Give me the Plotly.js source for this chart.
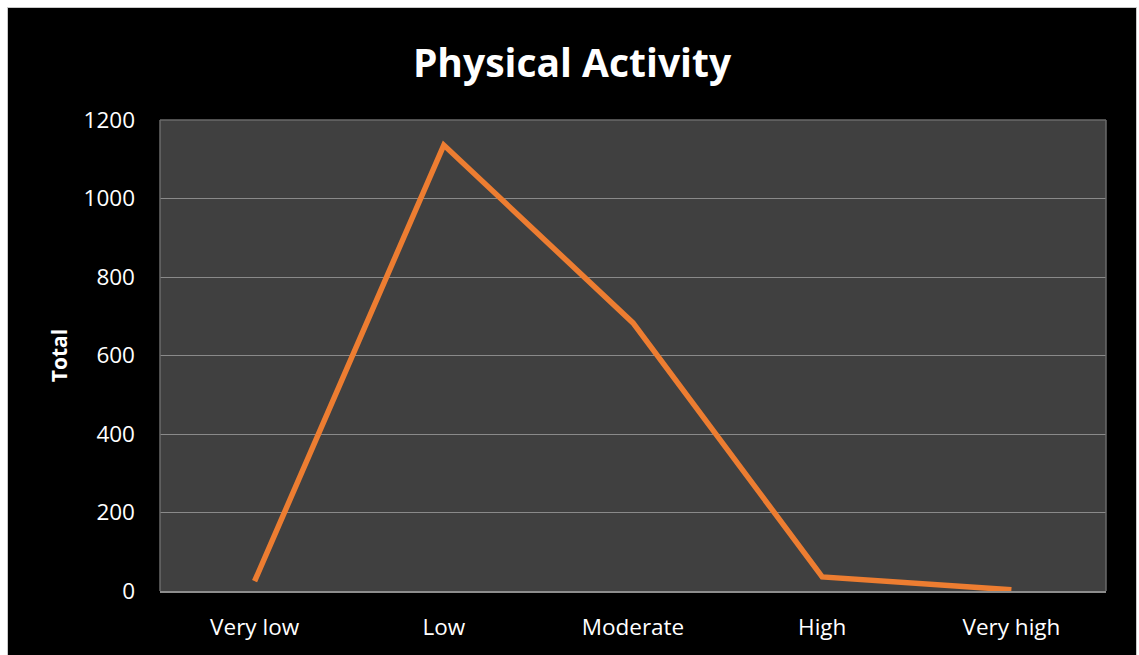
<!DOCTYPE html>
<html>
<head>
<meta charset="utf-8">
<script src="https://cdn.plot.ly/plotly-3.0.1.min.js"></script>
<style>
html,body{margin:0;padding:0;background:#ffffff;width:1139px;height:655px;overflow:hidden;}
#frame{position:absolute;left:7px;top:7px;width:1128px;height:648px;border-left:1px solid #c8c8c8;border-top:1px solid #c8c8c8;border-right:1px solid #c8c8c8;background:#000;}
#chart{width:1128px;height:648px;}
</style>
</head>
<body>
<div id="frame"><div id="chart"></div></div>
<script>
const categories = ["Very low", "Low", "Moderate", "High", "Very high"];
const totals = [25, 1136, 683, 36, 3];
const yTicks = [0, 200, 400, 600, 800, 1000, 1200];

const trace = {
  x: categories,
  y: totals,
  type: 'scatter',
  mode: 'lines',
  line: {color: '#ED7D31', width: 5.5, shape: 'linear'},
  hoverinfo: 'x+y'
};

const layout = {
  width: 1128,
  height: 648,
  paper_bgcolor: '#000000',
  plot_bgcolor: '#404040',
  margin: {l: 152, r: 30, t: 112, b: 65},
  font: {family: 'Open Sans, Liberation Sans, sans-serif', color: '#ffffff'},
  title: {
    text: '<b>Physical Activity</b>',
    font: {size: 39, color: '#ffffff', family: 'Open Sans, Liberation Sans, sans-serif'},
    x: 0.5, xanchor: 'center',
    y: 0.915, yanchor: 'middle'
  },
  showlegend: false,
  xaxis: {
    type: 'category',
    range: [-0.5, 4.5],
    showgrid: false,
    showline: true,
    linecolor: '#8c8c8c',
    linewidth: 1.5,
    mirror: false,
    ticks: '',
    tickfont: {size: 22.5, color: '#ffffff'},
    ticklabelstandoff: 15,
    zeroline: false,
    fixedrange: true
  },
  yaxis: {
    range: [0, 1200],
    tickvals: yTicks,
    ticktext: yTicks.map(String),
    showgrid: true,
    gridcolor: '#8a8a8a',
    gridwidth: 1,
    zeroline: false,
    showline: false,
    ticks: '',
    tickfont: {size: 22.5, color: '#ffffff'},
    ticklabelstandoff: 24,
    title: {text: '<b>Total</b>', font: {size: 21, color: '#ffffff'}, standoff: 10},
    fixedrange: true
  },
  shapes: [
    {type: 'line', xref: 'paper', yref: 'paper', x0: 0, x1: 0, y0: 0, y1: 1, line: {color: '#6a6a6a', width: 1.5}},
    {type: 'line', xref: 'paper', yref: 'paper', x0: 0, x1: 1, y0: 1, y1: 1, line: {color: '#6a6a6a', width: 1.5}},
    {type: 'line', xref: 'paper', yref: 'paper', x0: 1, x1: 1, y0: 0, y1: 1, line: {color: '#6a6a6a', width: 1.5}}
  ]
};

Plotly.newPlot('chart', [trace], layout, {displayModeBar: false, staticPlot: true});
</script>
</body>
</html>
